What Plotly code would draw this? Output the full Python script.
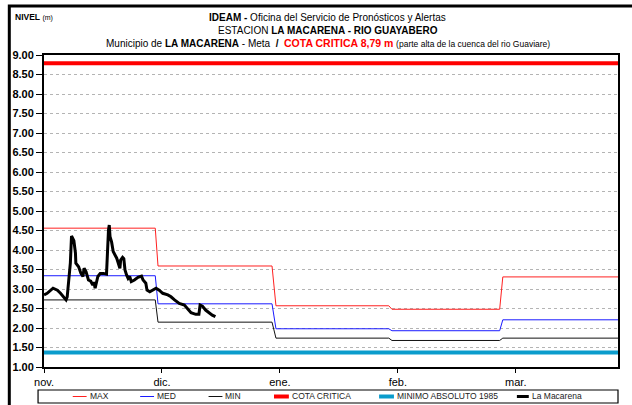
import plotly.graph_objects as go

# --- Level series (m). X is the day offset counted from 1 November. ---
month_ticks = [0, 30, 60, 90, 120]
month_labels = ["nov.", "dic.", "ene.", "feb.", "mar."]

# Monthly reference levels; each value holds from a start day to an end day
step_start = [0, 29, 59, 88.5, 116.7]
step_end = [28.3, 58, 87.7, 115.9, 146]
nivel_max = [4.56, 3.59, 2.57, 2.48, 3.31]
nivel_med = [3.34, 2.62, 1.98, 1.93, 2.21]
nivel_min = [2.72, 2.15, 1.74, 1.68, 1.74]

cota_critica = 8.79
minimo_1985 = 1.37

# Observed levels at La Macarena station
obs_day = [0, 0.8, 2.3, 3.4, 4.2, 5.0, 5.6, 5.9, 6.7, 7.0,
           7.6, 8.0, 8.1, 8.8, 9.4, 9.9, 10.2, 10.7, 11.3, 11.9,
           12.4, 12.7, 13.0, 13.7, 14.3, 15.1, 15.9, 16.4, 16.6, 16.8,
           17.2, 17.6, 18.5, 18.9, 19.3, 19.5, 20.0, 20.3, 20.6, 21.0,
           21.4, 21.8, 22.2, 23.0, 23.9, 24.8, 25.2, 25.9, 26.2, 26.9,
           27.7, 28.5, 29.3, 30.2, 31.5, 32.3, 33.2, 34.4, 35.7, 36.5,
           37.4, 38.6, 39.4, 39.7, 40.3, 41.1, 42.0, 42.8, 43.6]
obs_level = [2.85, 2.89, 3.02, 2.97, 2.89, 2.80, 2.72, 2.80, 3.66, 4.36,
             4.24, 3.92, 3.66, 3.57, 3.40, 3.32, 3.53, 3.44, 3.23, 3.20,
             3.10, 3.18, 3.02, 3.32, 3.40, 3.40, 3.38, 4.51, 4.64, 4.34,
             4.20, 3.96, 3.79, 3.66, 3.53, 3.74, 3.81, 3.78, 3.49, 3.36,
             3.27, 3.32, 3.19, 3.23, 3.30, 3.33, 3.23, 3.15, 2.97, 2.93,
             2.97, 3.02, 2.97, 2.89, 2.85, 2.80, 2.72, 2.63, 2.59, 2.50,
             2.39, 2.35, 2.35, 2.59, 2.56, 2.46, 2.39, 2.33, 2.29]

X_END = 146
FONT = "Liberation Sans Narrow, Arial Narrow, Liberation Sans, Arial, sans-serif"


def step_xy(values):
    xs, ys = [], []
    for a, b, v in zip(step_start, step_end, values):
        xs += [a, b]
        ys += [v, v]
    return xs, ys


fig = go.Figure()

series = [
    ("MAX", nivel_max, "#ff2020", 1),
    ("MED", nivel_med, "#1a1aff", 1),
    ("MIN", nivel_min, "#111111", 1),
]
for name, vals, color, w in series:
    xs, ys = step_xy(vals)
    fig.add_trace(go.Scatter(x=xs, y=ys, mode="lines", name=name,
                             line=dict(color=color, width=w), showlegend=False))

fig.add_trace(go.Scatter(x=[0, X_END], y=[cota_critica] * 2, mode="lines",
                         name="COTA CRITICA", line=dict(color="#ff0000", width=4),
                         showlegend=False))
fig.add_trace(go.Scatter(x=[0, X_END], y=[minimo_1985] * 2, mode="lines",
                         name="MINIMO ABSOLUTO 1985", line=dict(color="#0a9ccc", width=4),
                         showlegend=False))
fig.add_trace(go.Scatter(x=obs_day, y=obs_level, mode="lines", name="La Macarena",
                         line=dict(color="#000000", width=3),
                         showlegend=False))

# Pixel geometry of the plotting area, used to place frame, titles and legend
L, R, T, B = 40, 619, 55, 367
W, H = R - L, B - T


def px(x):
    return (x - L) / W


def py(y):
    return (B - y) / H


shapes = [
    # outer frame
    dict(type="rect", xref="paper", yref="paper", x0=px(5), x1=px(645), y0=py(425), y1=py(6),
         line=dict(color="black", width=3)),
    # legend box
    dict(type="rect", xref="paper", yref="paper", x0=px(34), x1=px(619), y0=py(403), y1=py(390),
         line=dict(color="black", width=1.2), fillcolor="white"),
]

legend_items = [
    ("MAX", "#ff2020", 1, 69, 83),
    ("MED", "#1a1aff", 1, 137, 151),
    ("MIN", "#111111", 1, 206, 220),
    ("COTA CRITICA", "#ff0000", 4, 272, 287),
    ("MINIMO ABSOLUTO 1985", "#0a9ccc", 4, 378, 393),
    ("La Macarena", "#000000", 3, 517, 529),
]
annotations = []
ly = 396.5
for label, color, w, x0, x1 in legend_items:
    shapes.append(dict(type="line", xref="paper", yref="paper", x0=px(x0), x1=px(x1),
                       y0=py(ly), y1=py(ly), line=dict(color=color, width=w)))
    annotations.append(dict(xref="paper", yref="paper", x=px(x1 + 1), y=py(ly),
                            xanchor="left", yanchor="middle", showarrow=False,
                            text=label, font=dict(family=FONT, size=8.5, color="#222")))

title_lines = [
    (17, 10, "<b>IDEAM - </b>Oficina del Servicio de Pronósticos y Alertas"),
    (30, 10, "ESTACION <b>LA MACARENA - RIO GUAYABERO</b>"),
    (43, 10, "Municipio de <b>LA MACARENA</b> - Meta  <b>/</b>  "
             "<span style='color:#ff0000;font-size:10.5px'><b>COTA CRITICA 8,79 m</b></span> "
             "<span style='font-size:8.5px'>(parte alta de la cuenca del rio Guaviare)</span>"),
]
for yy, size, txt in title_lines:
    annotations.append(dict(xref="paper", yref="paper", x=px(326), y=py(yy),
                            xanchor="center", yanchor="middle", showarrow=False,
                            text=txt, font=dict(family=FONT, size=size, color="black")))

annotations.append(dict(xref="paper", yref="paper", x=px(9), y=py(17),
                        xanchor="left", yanchor="middle", showarrow=False,
                        text="<b>NIVEL</b> <span style='font-size:7px'>(m)</span>",
                        font=dict(family=FONT, size=8.5, color="black")))

fig.update_layout(
    width=632, height=405,
    margin=dict(l=L, r=632 - R, t=T, b=405 - B, pad=0),
    paper_bgcolor="white", plot_bgcolor="white",
    showlegend=False,
    shapes=shapes, annotations=annotations,
    font=dict(family=FONT, color="black"),
)
fig.update_xaxes(
    range=[0, X_END], tickvals=month_ticks, ticktext=month_labels,
    ticks="outside", ticklen=4, tickcolor="black", tickwidth=1,
    showline=True, linecolor="black", linewidth=1.5, mirror=True,
    showgrid=False, zeroline=False,
    tickfont=dict(family=FONT, size=11, color="black"),
)
fig.update_yaxes(
    range=[1, 9], dtick=0.5, tick0=1, tickformat=".2f",
    ticks="outside", ticklen=6, tickcolor="black", tickwidth=1,
    showline=True, linecolor="black", linewidth=2, mirror=True,
    showgrid=True, gridcolor="#b4b4b4", griddash="dot", gridwidth=1,
    zeroline=False,
    tickfont=dict(family=FONT, size=11, color="black", weight="bold"),
)

fig.write_html("out.html")
